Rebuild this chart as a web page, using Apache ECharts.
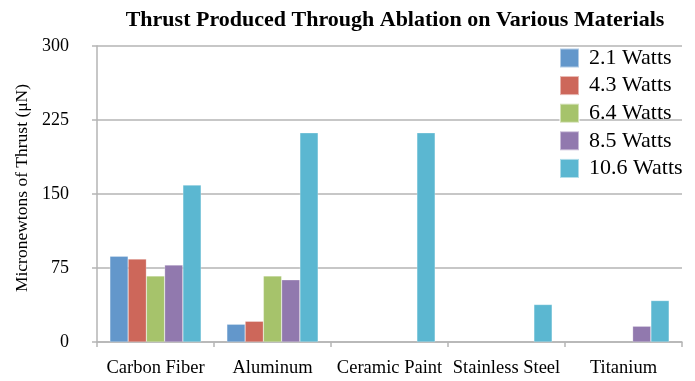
<!DOCTYPE html>
<html>
<head>
<meta charset="utf-8">
<script src="https://cdn.jsdelivr.net/npm/echarts@6/dist/echarts.min.js"></script>
<style>
  html, body { margin: 0; padding: 0; background: #fff; }
  #chart { width: 695px; height: 381px; }
</style>
</head>
<body>
<div id="chart"></div>
<script>
// Materials tested
const materials = ['Carbon Fiber', 'Aluminum', 'Ceramic Paint', 'Stainless Steel', 'Titanium'];

// Laser power levels (legend entries)
const powers = ['2.1 Watts', '4.3 Watts', '6.4 Watts', '8.5 Watts', '10.6 Watts'];

// Thrust in micronewtons per material, one array per power level (null = no measurable thrust)
const thrust21  = [87, 18, null, null, null];
const thrust43  = [84, 21, null, null, null];
const thrust64  = [67, 67, null, null, null];
const thrust85  = [78, 63, null, null, 16];
const thrust106 = [159, 212, 212, 38, 42];

const yTicks = [0, 75, 150, 225, 300];

const colors = ['#6397cb', '#cd675a', '#a6c36b', '#9179ae', '#5bb7d1'];
const seriesValues = [thrust21, thrust43, thrust64, thrust85, thrust106];

const serif = '"Liberation Serif", "DejaVu Serif", serif';

const chart = echarts.init(document.getElementById('chart'), null, { renderer: 'canvas' });

chart.setOption({
  animation: false,
  backgroundColor: '#ffffff',
  title: {
    text: 'Thrust Produced Through Ablation on Various Materials',
    left: 390,
    textAlign: 'center',
    top: 4,
    textStyle: { fontFamily: serif, fontWeight: 'bold', fontSize: 22, color: '#000' }
  },
  legend: {
    data: powers,
    orient: 'vertical',
    left: 554,
    top: 42,
    itemWidth: 19,
    itemHeight: 19,
    itemGap: 5.6,
    icon: 'rect',
    textStyle: { fontFamily: serif, fontSize: 22, color: '#000', padding: [0, 0, 0, 5] }
  },
  grid: { left: 97, right: 13, top: 46, bottom: 39, containLabel: false },
  xAxis: {
    type: 'category',
    data: materials,
    axisLine: { lineStyle: { color: '#b5b5b5', width: 1.5 } },
    axisTick: { show: true, length: 5, lineStyle: { color: '#b5b5b5', width: 1.5 } },
    axisLabel: { fontFamily: serif, fontSize: 18.5, color: '#000', margin: 17, interval: 0 }
  },
  yAxis: {
    type: 'value',
    min: yTicks[0],
    max: yTicks[yTicks.length - 1],
    interval: yTicks[1] - yTicks[0],
    name: 'Micronewtons of Thrust (μN)',
    nameLocation: 'middle',
    nameGap: 66,
    nameTextStyle: { fontFamily: serif, fontSize: 17.5, color: '#000', padding: [0, 0, 0, 12] },
    axisLine: { show: true, lineStyle: { color: '#b5b5b5', width: 1.5 } },
    axisTick: { show: true, length: 5, lineStyle: { color: '#b5b5b5', width: 1.5 } },
    axisLabel: { fontFamily: serif, fontSize: 18, color: '#000', margin: 28 },
    splitLine: { lineStyle: { color: '#b5b5b5', width: 1.5 } }
  },
  series: powers.map((name, i) => ({
    name: name,
    type: 'bar',
    data: seriesValues[i],
    barGap: '0%',
    barCategoryGap: '22%',
    itemStyle: { color: colors[i], borderColor: 'rgba(255,255,255,0.5)', borderWidth: 0.5 }
  })),
  color: colors
});
</script>
</body>
</html>
